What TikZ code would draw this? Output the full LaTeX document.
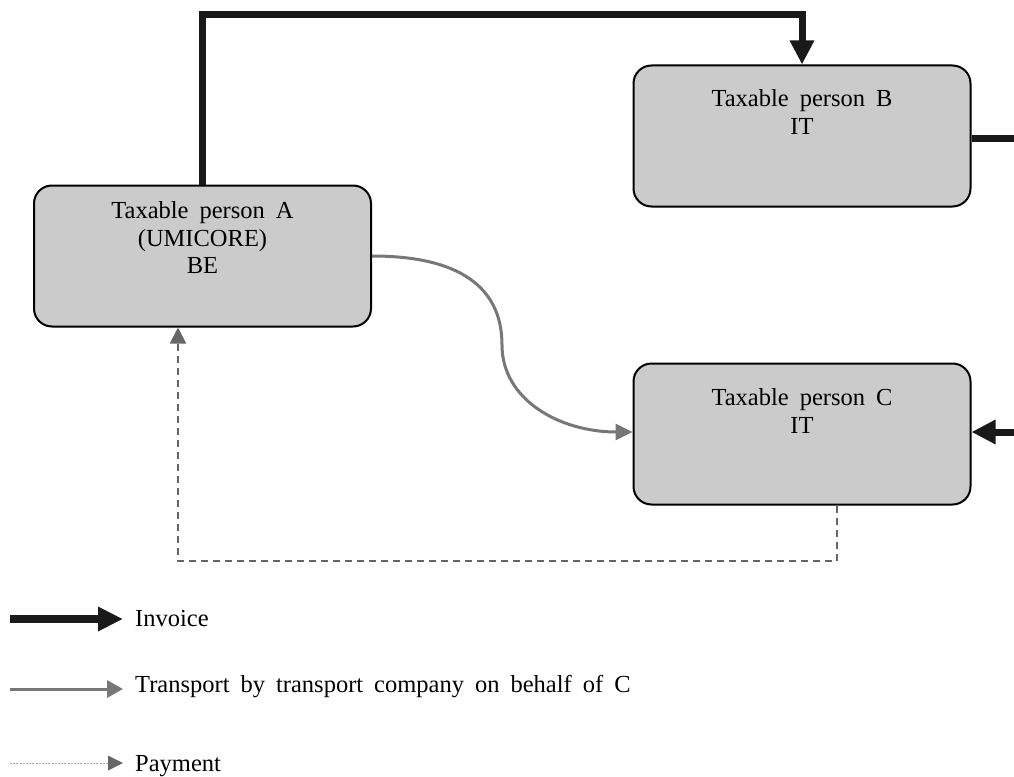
\documentclass[tikz,border=0pt]{standalone}
\usepackage{fontspec}
\setmainfont{Liberation Serif}
\usetikzlibrary{arrows.meta}
\definecolor{boxfill}{HTML}{CBCBCB}
\definecolor{transp}{HTML}{777777}
\definecolor{paycol}{HTML}{666666}
\newcommand{\dgfont}{\fontsize{24.5}{27}\selectfont\spaceskip=0.45em plus 0.1em minus 0.1em\relax}
\tikzset{
  box/.style={draw=black, line width=2pt, fill=boxfill, rounded corners=18pt, minimum width=337pt, minimum height=141pt, inner sep=0pt},
  boxtext/.style={anchor=base, font=\dgfont, inner sep=0pt},
  invoice/.style={line width=7pt, draw=black!90, -{Triangle[length=24pt,width=23pt]}},
  invoiceline/.style={line width=7pt, draw=black!90},
  transport/.style={line width=3pt, draw=transp, -{Triangle[length=17pt,width=16pt]}},
  payment/.style={line width=2pt, draw=paycol, dash pattern=on 7pt off 5pt, -{Triangle[length=16pt,width=16pt]}},
  paylegend/.style={line width=0.8pt, draw=gray!70, dash pattern=on 2pt off 1.2pt},
  legtext/.style={anchor=base west, font=\dgfont, inner sep=0pt},
}
\begin{document}
\begin{tikzpicture}[x=1pt,y=1pt]
\useasboundingbox (0,0) rectangle (1014,-776);
% boxes
\node[box] (A) at (202.5,-256) {};
\node[box] (B) at (802,-136) {};
\node[box] (C) at (802,-434) {};
\node[boxtext] (A1) at (202.5,-218) {Taxable person A};
\node[boxtext] (A2) at (202.5,-246) {(UMICORE)};
\node[boxtext] (A3) at (202.5,-273) {BE};
\node[boxtext] (B1) at (802,-106) {Taxable person B};
\node[boxtext] (B2) at (802,-134) {IT};
\node[boxtext] (C1) at (802,-405) {Taxable person C};
\node[boxtext] (C2) at (802,-433) {IT};
% edge coordinates
\coordinate (Bout) at (1016,-138);
\coordinate (Cin) at (1016,-432);
% invoice
\draw[invoice] (A.north) -- ++(0,170) -| (B.north);
\draw[invoiceline] (B.east |- Bout) -- (Bout);
\draw[invoice] (Cin) -- (C.east |- Cin);
% transport
\draw[transport] (A.east) .. controls (470,-256) and (502,-295) .. (502,-345)
  .. controls (502,-400) and (560,-432) .. (C.west |- Cin);
% payment
\draw[payment] ([xshift=35pt]C.south) -- ++(0,-55) -| ([xshift=-24.5pt]A.south);
% legend
\coordinate (L1a) at (10,-619);
\coordinate (L1b) at (123,-619);
\coordinate (L2a) at (10,-689);
\coordinate (L2b) at (123,-689);
\coordinate (L3a) at (10,-763);
\coordinate (L3b) at (108,-763);
\coordinate (L3c) at (123,-763);
\draw[line width=8pt, draw=black!90, -{Triangle[length=25pt,width=23pt]}] (L1a) -- (L1b);
\draw[line width=3pt, draw=transp, -{Triangle[length=16pt,width=17pt]}] (L2a) -- (L2b);
\draw[paylegend] (L3a) -- (L3b);
\draw[draw=none, fill=paycol] (L3b) ++(0,7.5) -- (L3c) -- ++(-15,-7.5) -- cycle;
\node[legtext] (T1) at (135,-626) {Invoice};
\node[legtext] (T2) at (135,-692) {Transport by transport company on behalf of C};
\node[legtext] (T3) at (135,-771) {Payment};
\end{tikzpicture}
\end{document}
